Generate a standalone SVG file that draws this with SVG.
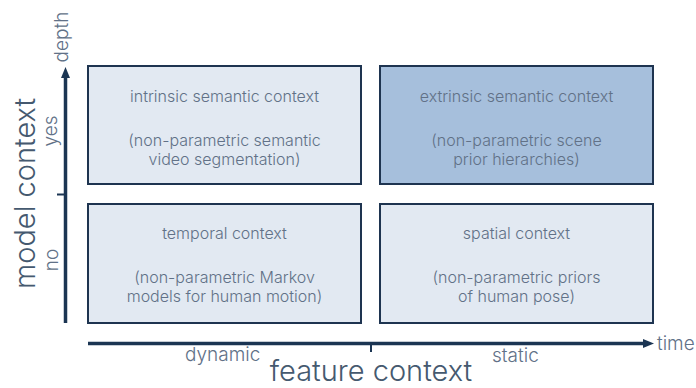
<svg xmlns="http://www.w3.org/2000/svg" width="696" height="388" viewBox="0 0 696 388">
<defs>
<style>
text{font-family:Inter,"Liberation Sans",sans-serif;font-weight:300;fill:#617187}
.box{stroke:#1e3450;stroke-width:2}
.light{fill:#e2e9f2}
.dark{fill:#a6bfdc}
.bt{font-size:16px;text-anchor:middle}
.big{font-size:29px;fill:#45596f}
.sm{font-size:19px}
.ax{stroke:#1b3553;stroke-width:3.5;fill:none}
.tick{stroke:#1b3553;stroke-width:2}
</style>
</defs>
<g id="connectors">
<line class="ax" x1="65.5" y1="323" x2="65.5" y2="76"/>
<polygon points="65.5,67 61,78 70,78" fill="#1b3553"/>
<line class="tick" x1="57" y1="194.5" x2="65.5" y2="194.5"/>
<line class="ax" x1="88" y1="343.5" x2="644" y2="343.5"/>
<polygon points="654,343.5 643,339 643,348" fill="#1b3553"/>
<line class="tick" x1="371" y1="343.5" x2="371" y2="352"/>
</g>
<g id="axis-labels">
<text class="big" transform="translate(35,193.5) rotate(-90)" text-anchor="middle">model context</text>
<text class="sm" transform="translate(57,131) rotate(-90)" text-anchor="middle">yes</text>
<text class="sm" transform="translate(58,260) rotate(-90)" text-anchor="middle">no</text>
<text class="sm" transform="translate(67.5,37) rotate(-90)" text-anchor="middle">depth</text>
<text class="big" x="371" y="381" text-anchor="middle">feature context</text>
<text class="sm" x="185" y="361">dynamic</text>
<text class="sm" x="492" y="362">static</text>
<text class="sm" x="657" y="350">time</text>
</g>
<g id="intrinsic">
<rect class="box light" x="88" y="66" width="273" height="118"/>
<text class="bt" x="224.5" y="102">intrinsic semantic context</text>
<text class="bt" x="224.5" y="146">(non-parametric semantic</text>
<text class="bt" x="224.5" y="165">video segmentation)</text>
</g>
<g id="extrinsic">
<rect class="box dark" x="380" y="66" width="273" height="118"/>
<text class="bt" x="516.5" y="102">extrinsic semantic context</text>
<text class="bt" x="516.5" y="146">(non-parametric scene</text>
<text class="bt" x="516.5" y="165">prior hierarchies)</text>
</g>
<g id="temporal">
<rect class="box light" x="88" y="204" width="273" height="119"/>
<text class="bt" x="224.5" y="239">temporal context</text>
<text class="bt" x="224.5" y="283">(non-parametric Markov</text>
<text class="bt" x="224.5" y="302">models for human motion)</text>
</g>
<g id="spatial">
<rect class="box light" x="380" y="204" width="273" height="119"/>
<text class="bt" x="516.5" y="239">spatial context</text>
<text class="bt" x="516.5" y="283">(non-parametric priors</text>
<text class="bt" x="516.5" y="302">of human pose)</text>
</g>
</svg>
